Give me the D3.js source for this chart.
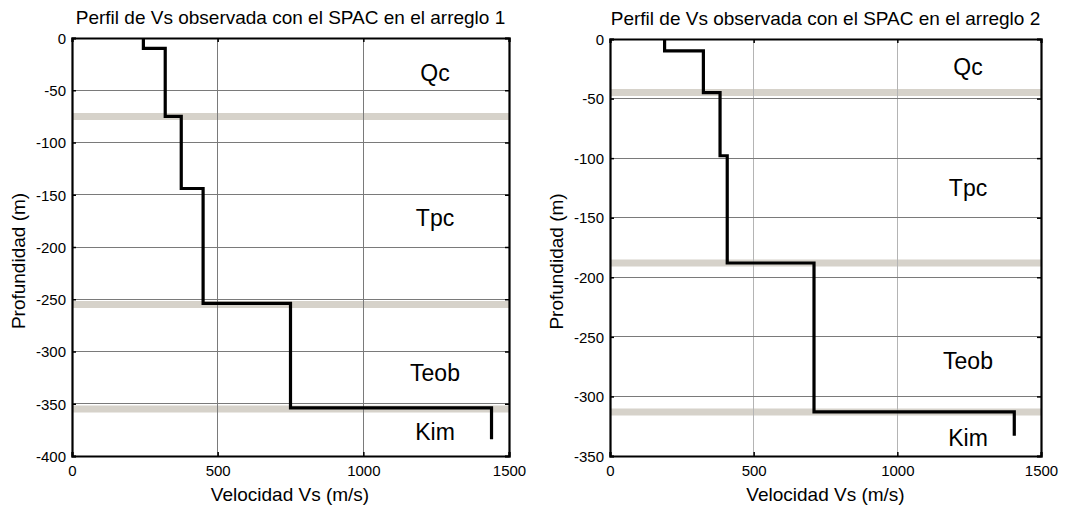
<!DOCTYPE html>
<html><head><meta charset="utf-8">
<script src="https://cdn.jsdelivr.net/npm/d3@7"></script>
<style>
html,body{margin:0;padding:0;background:#fff;}
svg{display:block;font-family:Arial,"Liberation Sans",sans-serif;}
</style></head>
<body>
<svg id="chart" width="1070" height="510"></svg>
<script>
// ---- data ----
const titles = ["Perfil de Vs observada con el SPAC en el arreglo 1",
                "Perfil de Vs observada con el SPAC en el arreglo 2"];
const xLabel = "Velocidad Vs (m/s)";
const yLabel = "Profundidad (m)";
const xTicks = [0, 500, 1000, 1500];
const yTicks1 = [0, -50, -100, -150, -200, -250, -300, -350, -400];
const yTicks2 = [0, -50, -100, -150, -200, -250, -300, -350];
const vs1 = [245, 320, 375, 450, 750, 1440];
const depth1 = [0, -10, -75, -144, -254, -354, -384];
const vs2 = [190, 325, 383, 408, 710, 1407];
const depth2 = [0, -10, -45, -98, -188, -313, -333];
const bands1 = [-75, -255, -355];
const bands2 = [-45, -188, -313];
const units = ["Qc", "Tpc", "Teob", "Kim"];
const unitDepth1 = [-33, -172, -320, -377];
const unitDepth2 = [-23, -125, -270, -335];
const unitVs = [1246, 1246];

const svg = d3.select("#chart");
const FONT = "Arial, 'Liberation Sans', sans-serif";

function panel(o) {
  const g = svg.append("g").attr("transform", `translate(${o.left},${o.top})`);
  const x = d3.scaleLinear().domain([0, 1500]).range([0, o.w]);
  const y = d3.scaleLinear().domain([0, o.yMin]).range([0, o.h]);

  // bands
  g.selectAll(".band").data(o.bands).join("line")
    .attr("x1", 0).attr("x2", o.w)
    .attr("y1", d => y(d)).attr("y2", d => y(d))
    .attr("stroke", "#d6d2ca").attr("stroke-width", 7);

  // grid
  g.selectAll(".gx").data(xTicks.slice(1, -1)).join("line")
    .attr("x1", d => x(d)).attr("x2", d => x(d)).attr("y1", 0).attr("y2", o.h)
    .attr("stroke", o.gridV).attr("stroke-width", 1).attr("shape-rendering", "crispEdges");
  g.selectAll(".gy").data(o.yTicks.slice(1, -1)).join("line")
    .attr("y1", d => y(d)).attr("y2", d => y(d)).attr("x1", 0).attr("x2", o.w)
    .attr("stroke", "#7a7a7a").attr("stroke-width", 1).attr("shape-rendering", "crispEdges");

  // step profile
  const pts = [];
  o.vs.forEach((v, i) => { pts.push([v, o.depth[i]]); pts.push([v, o.depth[i + 1]]); });
  g.append("path").datum(pts)
    .attr("d", d3.line().x(d => x(d[0])).y(d => y(d[1])))
    .attr("fill", "none").attr("stroke", "#000").attr("stroke-width", 3.2)
    .attr("stroke-linejoin", "miter");

  // axes (inward ticks)
  const fmt = d => String(d);
  const ax = g.append("g").attr("transform", `translate(0,${o.h})`)
    .call(d3.axisBottom(x).tickValues(xTicks).tickSize(-4).tickPadding(9).tickFormat(fmt));
  const ay = g.append("g")
    .call(d3.axisLeft(y).tickValues(o.yTicks).tickSize(-4).tickPadding(6).tickFormat(fmt));
  g.append("g").call(d3.axisTop(x).tickValues(xTicks).tickSize(-4).tickFormat(""));
  g.append("g").attr("transform", `translate(${o.w},0)`)
    .call(d3.axisRight(y).tickValues(o.yTicks).tickSize(-4).tickFormat(""));
  g.selectAll(".domain").attr("stroke", "#000").attr("stroke-width", 2.2);
  g.selectAll(".tick line").attr("stroke", "#000").attr("stroke-width", 1.5);
  g.selectAll(".tick text").attr("font-size", 15).attr("fill", "#000").attr("font-family", FONT);
  ay.selectAll(".tick text").attr("dy", "0.35em");
  ax.selectAll(".tick text").attr("dy", "0.75em");

  // unit labels
  g.selectAll(".unit").data(units).join("text")
    .attr("x", x(o.unitX)).attr("y", (d, i) => y(o.unitDepth[i]))
    .attr("dy", "0.36em").attr("text-anchor", "middle")
    .attr("font-size", 23).text(d => d);

  // title and labels
  g.append("text").attr("x", o.w / 2).attr("y", -14).attr("text-anchor", "middle")
    .attr("font-size", 19).text(o.title);
  g.append("text").attr("x", o.w / 2 + o.xLabDx).attr("y", o.h + 45).attr("text-anchor", "middle")
    .attr("font-size", 19).text(xLabel);
  g.append("text").attr("transform", `translate(${o.yLabX},${o.h / 2 + 14}) rotate(-90)`)
    .attr("text-anchor", "middle").attr("font-size", 19).text(yLabel);
}

panel({left: 72, top: 38, w: 437, h: 418, yMin: -400, yTicks: yTicks1,
       vs: vs1, depth: depth1, bands: bands1, unitDepth: unitDepth1, unitX: unitVs[0],
       title: titles[0], gridV: "#7a7a7a", yLabX: -47, xLabDx: -0.5});
panel({left: 610, top: 39, w: 431, h: 417, yMin: -350, yTicks: yTicks2,
       vs: vs2, depth: depth2, bands: bands2, unitDepth: unitDepth2, unitX: unitVs[1],
       title: titles[1], gridV: "#b4b4b4", yLabX: -47, xLabDx: 0});
</script>
</body></html>
